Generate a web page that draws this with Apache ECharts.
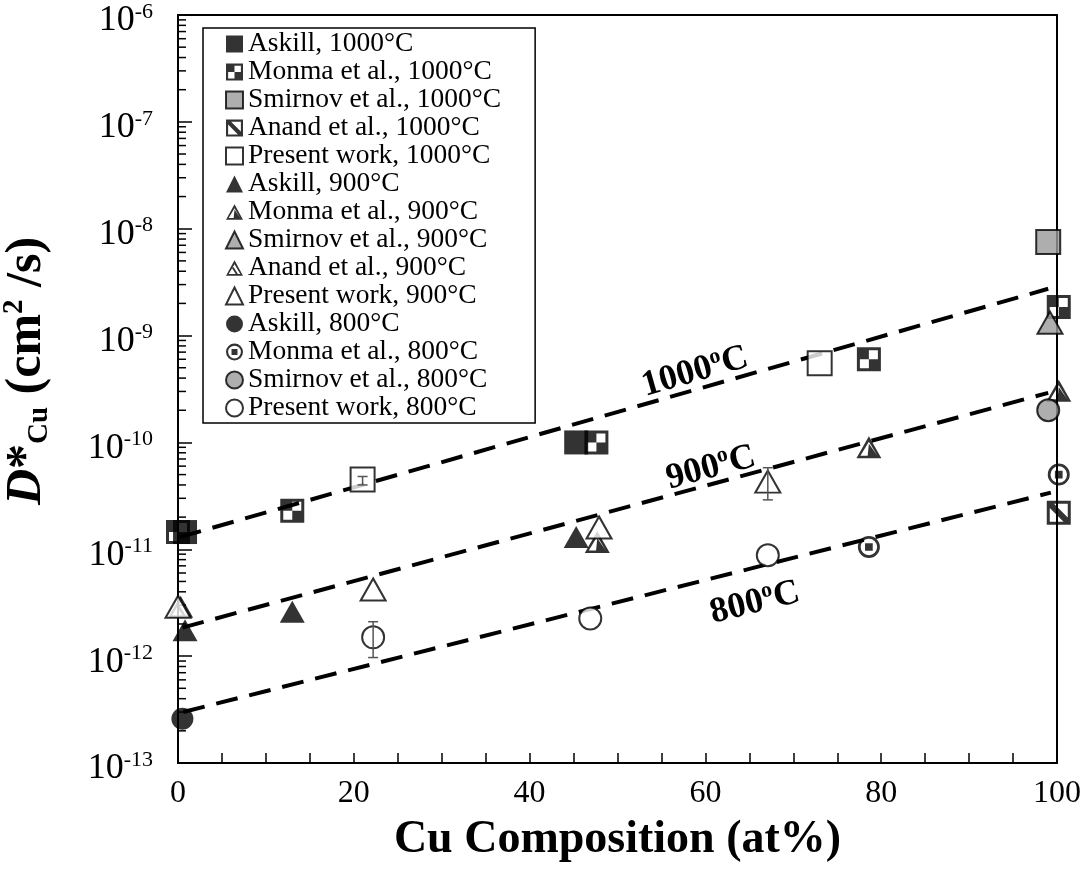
<!DOCTYPE html>
<html>
<head>
<meta charset="utf-8">
<script src="https://cdn.jsdelivr.net/npm/echarts@6/dist/echarts.min.js"></script>
<style>html,body{margin:0;padding:0;background:#fff}#c{width:1091px;height:886px}</style>
</head>
<body>
<div id="c"></div>
<script>
// ---- data ----
const askill1000   = [[0.8, 1.45e-11], [45.3, 1.0e-10]];
const monma1000    = [[0, 1.45e-11], [13, 2.3e-11], [47.6, 1.0e-10], [78.6, 6.0e-10], [100.2, 1.85e-9]];
const smirnov1000  = [[99, 7.5e-9]];
const anand1000    = [[100.2, 2.2e-11]];
const present1000  = [[21, 4.5e-11], [73, 5.5e-10]];
const askill900    = [[0.8, 1.75e-12], [13, 2.6e-12], [45.3, 1.3e-11]];
const monma900     = [[47.7, 1.17e-11], [78.6, 9.0e-11], [100.2, 3.05e-10]];
const smirnov900   = [[99.2, 1.32e-9]];
const anand900     = [[0.3, 2.9e-12]];
const present900   = [[0, 2.9e-12], [22.2, 4.2e-12], [47.9, 1.6e-11], [67.1, 4.3e-11]];
const askill800    = [[0.5, 2.6e-13]];
const monma800     = [[78.6, 1.05e-11], [100.2, 5.0e-11]];
const smirnov800   = [[99, 2.0e-10]];
const present800   = [[22.2, 1.5e-12], [46.9, 2.25e-12], [67.1, 8.8e-12]];
// error bars: [x, low, high]
const errorBars    = [[21, 4.0e-11, 4.8e-11], [22.2, 0.97e-12, 2.1e-12], [67.1, 2.9e-11, 5.8e-11]];
// dashed fit lines
const fit1000 = [[0.2, 1.3e-11], [99, 2.74e-9]];
const fit900  = [[0.5, 1.85e-12], [99, 2.91e-10]];
const fit800  = [[0.6, 3.0e-13], [99.3, 3.39e-11]];
const fitLabels = ['1000', '900', '800'];
// axis
const xTickLabels = [0, 20, 40, 60, 80, 100];
const yDecades = [-13, -12, -11, -10, -9, -8, -7, -6];
const minorMultipliers = [2, 3, 4, 5, 6, 7, 8, 9];

const FONT = "'Liberation Serif', 'Times New Roman', serif";

// symbols
const SQ_MONMA = 'path://M0,0H20V20H0Z M2.5,2.5V17.5H17.5V2.5Z M2.5,2.5H10V10H2.5Z M10,10H17.5V17.5H10Z';
const SQ_ANAND = 'path://M0,0H20V20H0Z M2.5,2.5V17.5H17.5V2.5Z M2.5,2.5H6L17.5,14V17.5H14L2.5,6Z';
const TRI_MONMA = 'path://M10,0L20,18L0,18Z M10,4.5L3.2,16L16.8,16Z M10,6L16.8,16L9,16Z';
const TRI_ANAND = 'path://M10,0L20,18L0,18Z M10,4.5L3.2,16L16.8,16Z M7,9L9,8L14,16L11.5,16Z';
const CI_MONMA = 'path://M0,10A10,10 0 0 1 20,10A10,10 0 0 1 0,10Z M2.5,10A7.5,7.5 0 0 0 17.5,10A7.5,7.5 0 0 0 2.5,10Z M6.5,6.5H13.5V13.5H6.5Z';

const minorTicks = [];
yDecades.slice(0, -1).forEach(e => minorMultipliers.forEach(m => minorTicks.push([0, m * Math.pow(10, e)])));

const SQ = 24, TRI = [25, 22], CI = 22;
const filled = {color: '#000', borderWidth: 0};
const open = {color: '#fff', borderColor: '#000', borderWidth: 2};
const gray = {color: '#9a9a9a', borderColor: '#000', borderWidth: 2};

function sc(name, data, symbol, size, style) {
  return {type: 'scatter', name, data, symbol, symbolSize: size, itemStyle: style, clip: false, z: 5,
          emphasis: {disabled: true}};
}

const scatterSeries = [
  sc('Askill, 1000°C', askill1000, 'rect', SQ, filled),
  sc('Monma et al., 1000°C', monma1000, SQ_MONMA, SQ, filled),
  sc('Smirnov et al., 1000°C', smirnov1000, 'rect', SQ, gray),
  sc('Anand et al., 1000°C', anand1000, SQ_ANAND, SQ, filled),
  sc('Present work, 1000°C', present1000, 'rect', SQ, open),
  sc('Askill, 900°C', askill900, 'triangle', TRI, filled),
  sc('Monma et al., 900°C', monma900, TRI_MONMA, TRI, filled),
  sc('Smirnov et al., 900°C', smirnov900, 'triangle', TRI, gray),
  sc('Anand et al., 900°C', anand900, TRI_ANAND, TRI, filled),
  sc('Present work, 900°C', present900, 'triangle', TRI, open),
  sc('Askill, 800°C', askill800, 'circle', CI, filled),
  sc('Monma et al., 800°C', monma800, CI_MONMA, CI, filled),
  sc('Smirnov et al., 800°C', smirnov800, 'circle', CI, gray),
  sc('Present work, 800°C', present800, 'circle', CI, open)
];

function fitLine(data) {
  return {type: 'line', data, showSymbol: false, symbol: 'none', z: 3, silent: true,
          lineStyle: {color: '#000', width: 4, type: [22, 12]}};
}

const chart = echarts.init(document.getElementById('c'), null, {renderer: 'canvas'});

const labelRich = {a: {fontFamily: FONT, fontSize: 36, fontWeight: 'bold', color: '#000', lineHeight: 40},
                   o: {fontFamily: FONT, fontSize: 22, fontWeight: 'bold', color: '#000', verticalAlign: 'top', lineHeight: 40}};
function lineLabel(txt, x, y, deg) {
  return {type: 'text', x, y, rotation: deg * Math.PI / 180, z: 10,
          style: {text: '{a|' + txt + '}{o|o}{a|C}', rich: labelRich, align: 'center', verticalAlign: 'middle'}};
}

chart.setOption({
  backgroundColor: '#fff',
  animation: false,
  grid: {left: 178, right: 34, top: 15, bottom: 123, containLabel: false, outerBoundsMode: 'none',
         show: true, borderColor: '#000', borderWidth: 2, backgroundColor: 'transparent'},
  xAxis: {
    type: 'value', min: 0, max: 100, interval: 5,
    axisLine: {lineStyle: {color: '#000', width: 2}},
    axisTick: {inside: true, length: 10, lineStyle: {color: '#000', width: 1.5}},
    splitLine: {show: false},
    axisLabel: {margin: 15, color: '#000', fontFamily: FONT, fontSize: 32,
                formatter: v => xTickLabels.indexOf(v) >= 0 ? String(v) : ''},
    name: 'Cu Composition (at%)', nameLocation: 'middle', nameGap: 54,
    nameTextStyle: {fontFamily: FONT, fontSize: 46, fontWeight: 'bold', color: '#000'}
  },
  yAxis: {
    type: 'log', logBase: 10, min: 1e-13, max: 1e-6, interval: 1,
    axisLine: {lineStyle: {color: '#000', width: 2}},
    axisTick: {inside: true, length: 14, lineStyle: {color: '#000', width: 1.5}},
    minorTick: {show: false},
    splitLine: {show: false},
    axisLabel: {
      margin: 25, color: '#000', padding: [10, 0, 0, 0],
      formatter: v => '{b|10}{s|' + Math.round(Math.log10(v)) + '}',
      rich: {b: {fontFamily: FONT, fontSize: 36, color: '#000', lineHeight: 38, verticalAlign: 'bottom'},
             s: {fontFamily: FONT, fontSize: 22, color: '#000', lineHeight: 38, verticalAlign: 'top'}}
    },
    name: '{i|D}{b|*}{sub|Cu}{b| (cm}{sup|2}{b| /s)}', nameLocation: 'middle', nameRotate: 90, nameGap: 124,
    nameTextStyle: {
      padding: [0, 0, 0, 36],
      rich: {
        i: {fontFamily: FONT, fontSize: 50, fontWeight: 'bold', fontStyle: 'italic', color: '#000', lineHeight: 54},
        b: {fontFamily: FONT, fontSize: 50, fontWeight: 'bold', color: '#000', lineHeight: 54},
        sub: {fontFamily: FONT, fontSize: 29, fontWeight: 'bold', color: '#000', lineHeight: 54, verticalAlign: 'bottom'},
        sup: {fontFamily: FONT, fontSize: 29, fontWeight: 'bold', color: '#000', lineHeight: 54, verticalAlign: 'top'}
      }
    }
  },
  legend: {
    orient: 'vertical', left: 203, top: 28, itemGap: 0, itemWidth: 17, itemHeight: 17,
    padding: [2, 34, 1, 22], borderColor: '#000', borderWidth: 1.5, backgroundColor: '#fff',
    selectedMode: false, z: 20,
    textStyle: {fontFamily: FONT, fontSize: 27.5, lineHeight: 27.5, color: '#000', padding: [0, 0, 0, 0]},
    data: scatterSeries.map(s => s.name)
  },
  series: [
    fitLine(fit1000), fitLine(fit900), fitLine(fit800),
    ...scatterSeries,
    {
      type: 'custom', data: errorBars, z: 8, silent: true, clip: false,
      encode: {x: 0, y: [1, 2]},
      renderItem: (params, api) => {
        const lo = api.coord([api.value(0), api.value(1)]);
        const hi = api.coord([api.value(0), api.value(2)]);
        const w = 5;
        return {type: 'group', children: [
          {type: 'line', shape: {x1: lo[0], y1: lo[1], x2: hi[0], y2: hi[1]}, style: {stroke: '#555', lineWidth: 1.5}},
          {type: 'line', shape: {x1: lo[0] - w, y1: lo[1], x2: lo[0] + w, y2: lo[1]}, style: {stroke: '#555', lineWidth: 1.5}},
          {type: 'line', shape: {x1: hi[0] - w, y1: hi[1], x2: hi[0] + w, y2: hi[1]}, style: {stroke: '#555', lineWidth: 1.5}}
        ]};
      }
    },
    {
      type: 'custom', data: minorTicks, z: 2, silent: true, clip: false,
      encode: {x: 0, y: 1},
      renderItem: (params, api) => {
        const p = api.coord([api.value(0), api.value(1)]);
        return {type: 'line', shape: {x1: p[0], y1: p[1], x2: p[0] + 8, y2: p[1]}, style: {stroke: '#000', lineWidth: 1.5}};
      }
    }
  ],
  graphic: [
    lineLabel(fitLabels[0], 695, 372, 16),
    lineLabel(fitLabels[1], 711, 468, 15),
    lineLabel(fitLabels[2], 755, 603, 14)
  ]
});
</script>
</body>
</html>
